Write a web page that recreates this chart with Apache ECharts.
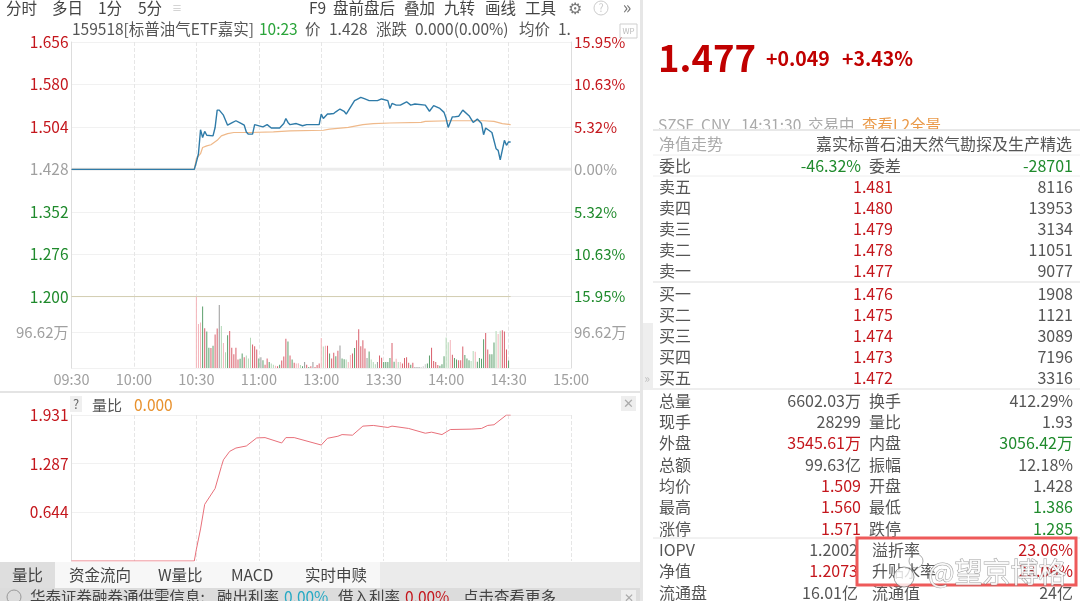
<!DOCTYPE html>
<html lang="zh">
<head>
  <meta charset="UTF-8">
  <title>159518 分时</title>
  <style>
    html, body { margin: 0; padding: 0; background: #fff; }
    #main { width: 1080px; height: 601px; }
  </style>
</head>
<body>
  <div id="main"></div>
  <script src="https://cdn.jsdelivr.net/npm/echarts@6/dist/echarts.min.js"></script>
  <script>
    const FONT = '"Noto Sans CJK SC", "Noto Sans", sans-serif';
    const RED = '#c4161c', GREEN = '#1f8a2c', GRAY = '#a0a0a0', DARK = '#555555';

    // 时间轴（从 09:30 起的分钟数）
    const timeLabels = ['09:30', '10:00', '10:30', '11:00', '13:00', '13:30', '14:00', '14:30', '15:00'];

    // 价格刻度
    const priceTicks = [1.2, 1.276, 1.352, 1.428, 1.504, 1.58, 1.656];
    const pctLabels = ['15.95%', '10.63%', '5.32%', '0.00%', '5.32%', '10.63%', '15.95%'];
    const preClose = 1.428;

    // 分时价
    const priceMinutes = [0, 59, 60, 61, 62, 63, 64, 65, 68, 69, 70, 71, 73, 75, 77, 79, 81, 83, 84, 85, 87, 88, 91, 92, 94, 96, 100, 102, 103, 104, 105, 108, 111, 113, 119, 120, 121, 123, 124, 126, 127, 129, 131, 132, 134, 136, 137, 139, 141, 143, 145, 147, 149, 152, 153, 154, 156, 158, 161, 163, 165, 170, 172, 174, 177, 179, 180, 181, 183, 184, 186, 188, 191, 193, 195, 197, 198, 199, 202, 204, 205, 206, 208, 209, 210, 211];
    const priceValues = [1.428, 1.428, 1.441, 1.456, 1.499, 1.485, 1.496, 1.489, 1.488, 1.503, 1.534, 1.534, 1.525, 1.507, 1.511, 1.515, 1.511, 1.507, 1.495, 1.491, 1.491, 1.508, 1.505, 1.504, 1.508, 1.502, 1.502, 1.510, 1.519, 1.512, 1.508, 1.510, 1.506, 1.508, 1.508, 1.527, 1.519, 1.527, 1.527, 1.528, 1.531, 1.536, 1.532, 1.527, 1.539, 1.551, 1.553, 1.557, 1.554, 1.551, 1.551, 1.551, 1.554, 1.551, 1.537, 1.546, 1.543, 1.543, 1.549, 1.543, 1.545, 1.543, 1.532, 1.542, 1.537, 1.530, 1.519, 1.503, 1.522, 1.522, 1.523, 1.534, 1.524, 1.512, 1.518, 1.510, 1.490, 1.502, 1.494, 1.465, 1.462, 1.445, 1.480, 1.471, 1.477, 1.477];

    // 均价
    const avgMinutes = [0, 59, 60, 62, 63, 65, 67, 70, 72, 75, 78, 86, 97, 105, 121, 124, 133, 140, 145, 153, 168, 170, 182, 198, 203, 207, 211];
    const avgValues = [1.428, 1.428, 1.447, 1.456, 1.467, 1.470, 1.472, 1.480, 1.488, 1.492, 1.494, 1.494, 1.495, 1.497, 1.498, 1.500, 1.503, 1.508, 1.510, 1.511, 1.512, 1.514, 1.515, 1.515, 1.514, 1.510, 1.508];

    // 成交量（万），第一根在 10:30
    const volumeStart = 60;
    const volumes = [
      193.2, 119, 123, 167, 108, 99, 55, 54, 60, 91, 107, 171, 114, 68, 43, 89, 100, 55, 37, 55,
      23, 25, 39, 29, 34, 26, 82, 64, 59, 50, 26, 29, 21, 9, 26, 16, 12, 9, 6, 5,
      9, 20, 31, 79, 72, 34, 23, 14,
      12, 13, 8, 5, 16, 9, 3, 5, 16, 3, 8, 12,
      81, 58, 60, 60, 39, 26, 41, 32, 47, 61, 26, 24, 23, 16, 35, 39, 54, 75, 105, 59,
      75, 53, 27, 45, 23, 16, 10, 16, 34, 28, 16, 16, 16, 27, 68, 17, 25, 16, 16, 12,
      27, 29, 14, 9, 14, 3, 3, 3, 3, 5, 10, 12, 34, 55, 19, 16, 8, 6, 10, 32,
      83, 70, 76, 36, 27, 23, 21, 21, 58, 35, 26, 21, 19, 46, 44, 17, 27, 25, 78, 95,
      50, 37, 37, 69, 100, 92, 101, 102, 99, 50, 20
    ];
    // 涨跌方向 1 涨 -1 跌 0 平
    const volumeDirs = [
      1, 1, 1, -1, 1, -1, -1, 1, -1, 1, 1, 0, -1, 1, -1, -1, 1, 1, 1, 1,
      1, -1, -1, 1, -1, -1, -1, 1, 1, 1, -1, 0, -1, 1, 1, -1, -1, -1, 1, 1,
      -1, 1, 1, 1, -1, 1, -1, 1,
      1, 1, -1, -1, 0, 1, -1, 1, 0, 1, 1, 1,
      1, -1, 1, 1, -1, 1, 1, -1, 1, 0, -1, -1, -1, 1, 1, 1, -1, 1, 1, 1,
      1, 1, 0, -1, -1, -1, -1, 0, 1, 1, -1, -1, -1, -1, 1, -1, 1, -1, 1, 1,
      1, 1, 1, -1, 1, 0, 0, 0, 0, 0, 0, -1, -1, 1, 1, 1, 1, -1, -1, -1,
      -1, -1, 1, 1, -1, -1, 1, 1, 1, -1, -1, -1, -1, -1, 1, -1, -1, -1, -1, 1,
      1, -1, -1, -1, -1, 1, -1, 1, 1, 1, -1
    ];
    const volumeTick = 96.62;

    // 量比
    const ratioMinutes = [0, 59, 60, 62, 64, 69, 72, 73, 76, 79, 84, 89, 93, 101, 103, 107, 120, 123, 128, 130, 135, 140, 145, 152, 154, 162, 170, 173, 178, 182, 192, 197, 200, 203, 209, 211];
    const ratioValues = [0, 0, 0.156, 0.424, 0.749, 0.959, 1.249, 1.338, 1.450, 1.494, 1.521, 1.628, 1.632, 1.561, 1.632, 1.632, 1.534, 1.623, 1.650, 1.672, 1.664, 1.784, 1.793, 1.766, 1.784, 1.753, 1.690, 1.704, 1.672, 1.739, 1.744, 1.753, 1.793, 1.802, 1.931, 1.931];
    const ratioTicks = [0.644, 1.287, 1.931];

    // 右侧盘口
    const quoteRows = [
      ['卖五', '1.481', '8116'], ['卖四', '1.480', '13953'], ['卖三', '1.479', '3134'],
      ['卖二', '1.478', '11051'], ['卖一', '1.477', '9077'], ['买一', '1.476', '1908'],
      ['买二', '1.475', '1121'], ['买三', '1.474', '3089'], ['买四', '1.473', '7196'], ['买五', '1.472', '3316']
    ];
    const quoteRowY = [187, 208, 229, 250, 271, 294, 315, 336, 357, 378];
    const statRows = [
      ['总量', '6602.03万', DARK, '换手', '412.29%', DARK],
      ['现手', '28299', DARK, '量比', '1.93', DARK],
      ['外盘', '3545.61万', RED, '内盘', '3056.42万', GREEN],
      ['总额', '99.63亿', DARK, '振幅', '12.18%', DARK],
      ['均价', '1.509', RED, '开盘', '1.428', DARK],
      ['最高', '1.560', RED, '最低', '1.386', GREEN],
      ['涨停', '1.571', RED, '跌停', '1.285', GREEN],
      ['IOPV', '1.2002', DARK, '溢折率', '23.06%', RED],
      ['净值', '1.2073', RED, '升贴水率', '23.06%', RED],
      ['流通盘', '16.01亿', DARK, '流通值', '24亿', DARK]
    ];
    const statRowY = [401, 422, 443, 465, 486, 507, 529, 550, 571, 593];
    const topTabs = [['分时', 6], ['多日', 52], ['1分', 98], ['5分', 138], ['F9', 309], ['盘前盘后', 333], ['叠加', 404], ['九转', 444], ['画线', 485], ['工具', 525]];
    const bottomTabs = [['量比', 12], ['资金流向', 69], ['W量比', 158], ['MACD', 231], ['实时申赎', 305]];
    const titleParts = [
      ['159518[标普油气ETF嘉实]', 72, DARK], ['10:23', 259, '#2aa43a'], ['价', 305, DARK], ['1.428', 329, DARK],
      ['涨跌', 376, DARK], ['0.000(0.00%)', 415, DARK], ['均价', 519, DARK], ['1.', 558, DARK]
    ];

    function txt(x, y, text, fill, size, align, weight) {
      return {
        type: 'text', z: 20,
        style: {
          x: x, y: y, text: text, fill: fill,
          font: (weight || 'normal') + ' ' + size + 'px ' + FONT,
          textAlign: align || 'left', textVerticalAlign: 'middle'
        }
      };
    }
    function box(x, y, w, h, fill, z) {
      return { type: 'rect', z: z || 1, shape: { x: x, y: y, width: w, height: h }, style: { fill: fill } };
    }
    function hline(y, color, width) {
      return { type: 'line', z: 2, shape: { x1: 653, y1: y, x2: 1080, y2: y }, style: { stroke: color, lineWidth: width || 1 } };
    }

    const g = [];
    // 面板底色
    g.push(box(640, 0, 3, 601, '#e6e6e6'));
    g.push(box(643, 323, 10, 67, '#eeeeee'));
    g.push(box(0, 391, 640, 2, '#e4e4e4'));
    g.push(box(0, 562, 640, 26, '#ebebeb'));
    g.push(box(55, 562, 325, 26, '#f7f7f7'));
    g.push(box(0, 562, 55, 26, '#dedede'));
    g.push(box(0, 588, 640, 13, '#dcdcdc'));
    // 顶部工具条
    topTabs.forEach(t => g.push(txt(t[1], 8, t[0], '#444444', 15.5)));
    g.push(txt(172, 8, '≡', '#c8c8c8', 10));
    g.push(txt(575, 8, '⚙', '#777777', 16, 'center'));
    g.push({ type: 'circle', z: 20, shape: { cx: 601, cy: 8, r: 7 }, style: { fill: 'none', stroke: '#cccccc' } });
    g.push(txt(601, 8, '?', '#cccccc', 11, 'center'));
    g.push(txt(627, 7, '»', '#777777', 18, 'center'));
    // 标题行
    titleParts.forEach(t => g.push(txt(t[1], 29, t[0], t[2], 15.5)));
    g.push({ type: 'rect', z: 20, shape: { x: 620, y: 24, width: 17, height: 14 }, style: { fill: 'none', stroke: '#cfcfcf' } });
    g.push(txt(628.5, 31, 'WP', '#bbbbbb', 8, 'center'));
    // 副图标题
    g.push(box(70, 396, 12, 16, '#efefef'));
    g.push(txt(76, 404, '?', '#666666', 13, 'center'));
    g.push(txt(92, 405, '量比', DARK, 15));
    g.push(txt(134, 405, '0.000', '#e8912d', 15.5));
    g.push(box(621, 396, 15, 15, '#eeeeee'));
    g.push(txt(628.5, 403, '✕', '#aaaaaa', 13, 'center'));
    // 底部标签
    bottomTabs.forEach(t => g.push(txt(t[1], 575, t[0], '#444444', 15.5)));
    g.push({ type: 'circle', z: 20, shape: { cx: 14, cy: 597, r: 7 }, style: { fill: 'none', stroke: '#999999' } });
    g.push(txt(30, 597, '华泰证券融券通供需信息:', '#444444', 15.5));
    g.push(txt(217, 597, '融出利率', '#444444', 15.5));
    g.push(txt(284, 597, '0.00%', '#25a9c4', 15.5));
    g.push(txt(338, 597, '借入利率', '#444444', 15.5));
    g.push(txt(405, 597, '0.00%', RED, 15.5));
    g.push(txt(463, 597, '点击查看更多', '#444444', 15.5));
    g.push(box(621, 590, 15, 11, '#eeeeee', 21));
    g.push(Object.assign(txt(628.5, 597, '✕', '#aaaaaa', 12, 'center'), { z: 22 }));

    // 右侧头部
    g.push(txt(658, 58, '1.477', '#c00000', 36.5, 'left', 'bold'));
    g.push(txt(766, 59, '+0.049', '#c00000', 19.5, 'left', 'bold'));
    g.push(txt(842, 59, '+3.43%', '#c00000', 19.5, 'left', 'bold'));
    g.push(txt(658, 125, 'SZSE', '#aaaaaa', 15.5));
    g.push(txt(701, 125, 'CNY', '#aaaaaa', 15.5));
    g.push(txt(741, 125, '14:31:30', '#aaaaaa', 15.5));
    g.push(txt(808, 125, '交易中', '#aaaaaa', 15.5));
    g.push(txt(862, 125, '查看L2全景', '#ea9a4a', 15.5));
    g.push(box(653, 130, 427, 8, '#ffffff', 21));
    g.push(Object.assign(hline(130, '#e8e8e8', 2), { z: 22 }));
    g.push(Object.assign(txt(659, 144, '净值走势', '#aaaaaa', 16), { z: 23 }));
    g.push(Object.assign(txt(1072, 144, '嘉实标普石油天然气勘探及生产精选', DARK, 16, 'right'), { z: 23 }));
    g.push(hline(155, '#eeeeee'));
    g.push(txt(659, 166, '委比', DARK, 16));
    g.push(txt(861, 166, '-46.32%', GREEN, 16, 'right'));
    g.push(txt(869, 166, '委差', DARK, 16));
    g.push(txt(1073, 166, '-28701', GREEN, 16, 'right'));
    g.push(hline(176, '#eeeeee'));
    g.push(hline(282, '#eeeeee', 2));
    g.push(hline(389, '#eeeeee', 2));
    g.push(hline(538, '#e4e4e4'));
    quoteRows.forEach((r, i) => {
      g.push(txt(659, quoteRowY[i], r[0], DARK, 16));
      g.push(txt(893, quoteRowY[i], r[1], RED, 16, 'right'));
      g.push(txt(1073, quoteRowY[i], r[2], DARK, 16, 'right'));
    });
    statRows.forEach((r, i) => {
      const lx = i >= 7 ? 872 : 869;
      g.push(txt(659, statRowY[i], r[0], DARK, 16));
      g.push(txt(i >= 7 ? 858 : 861, statRowY[i], r[1], r[2], 16, 'right'));
      g.push(txt(lx, statRowY[i], r[3], DARK, 16));
      g.push(txt(1073, statRowY[i], r[4], r[5], 16, 'right'));
    });
    g.push(txt(640 + 7, 378, '»', '#c0c0c0', 12, 'center'));
    // 红框与水印
    g.push({ type: 'rect', z: 30, shape: { x: 857, y: 538, width: 219, height: 47 }, style: { fill: 'none', stroke: '#ee5a5a', lineWidth: 3 } });
    g.push({ type: 'text', z: 31, style: { x: 928, y: 572, text: '@望京博格', fill: 'rgba(255,255,255,0.85)', stroke: 'rgba(120,120,120,0.7)', lineWidth: 1, font: '28px ' + FONT, textVerticalAlign: 'middle' } });
    g.push({ type: 'circle', z: 31, shape: { cx: 904, cy: 577, r: 10 }, style: { fill: 'rgba(255,255,255,0.8)', stroke: 'rgba(120,120,120,0.7)' } });
    g.push({ type: 'circle', z: 31, shape: { cx: 916, cy: 561, r: 7 }, style: { fill: 'none', stroke: 'rgba(120,120,120,0.6)' } });

    const splitDash = { show: true, lineStyle: { color: '#e6e6e6', type: 'dashed', width: 1 } };
    const splitDot = { show: true, lineStyle: { color: '#e2e2e2', type: 'dotted', width: 1 } };
    const edgeLine = { show: true, lineStyle: { color: '#dddddd', width: 1 } };

    function xAxisFor(gridIndex, showLabels) {
      return {
        type: 'value', gridIndex: gridIndex, min: 0, max: 240, interval: 30,
        axisLine: { show: false }, axisTick: { show: false }, splitLine: splitDash,
        axisLabel: {
          show: showLabels, color: GRAY, fontSize: 14.5, fontFamily: FONT, margin: 4, showMinLabel: true, showMaxLabel: true,
          formatter: v => timeLabels[v / 30]
        }
      };
    }
    function priceColor(v) {
      return v > preClose + 1e-6 ? RED : (v < preClose - 1e-6 ? GREEN : GRAY);
    }
    // 参考图里细柱被缩放后深浅交替，每 12 根一轮
    function barColor(i) {
      const pale = i % 12 < 3;
      if (volumeDirs[i] > 0) return pale ? '#f4b4ba' : '#d9606c';
      if (volumeDirs[i] < 0) return pale ? '#b2d8b6' : '#5c9f6c';
      return pale ? '#c8c8c8' : '#9a9a9a';
    }

    const option = {
      animation: false,
      backgroundColor: '#ffffff',
      textStyle: { fontFamily: FONT },
      graphic: { elements: g },
      grid: [
        { left: 71.5, right: 509, top: 42, height: 254.7 },
        { left: 71.5, right: 509, top: 296.7, height: 71.3 },
        { left: 71.5, right: 509, top: 415, height: 146 }
      ],
      xAxis: [xAxisFor(0, false), xAxisFor(1, true), xAxisFor(2, false)],
      yAxis: [
        {
          type: 'value', gridIndex: 0, min: 1.2, max: 1.656, splitLine: splitDot, axisLine: edgeLine, axisTick: { show: false, customValues: priceTicks },
          axisLabel: { customValues: priceTicks, margin: 3, fontSize: 15.5, fontFamily: FONT, color: v => priceColor(v), formatter: v => v.toFixed(3) }
        },
        {
          type: 'value', gridIndex: 0, position: 'right', min: 1.2, max: 1.656, splitLine: { show: false }, axisLine: edgeLine, axisTick: { show: false, customValues: priceTicks },
          axisLabel: { customValues: priceTicks, margin: 3, fontSize: 15, fontFamily: FONT, color: v => priceColor(v), formatter: v => pctLabels[priceTicks.findIndex(t => Math.abs(t - v) < 1e-6)] }
        },
        {
          type: 'value', gridIndex: 1, min: 0, max: volumeTick * 2, interval: volumeTick, splitLine: splitDot, axisLine: edgeLine, axisTick: { show: false },
          axisLabel: { margin: 3, fontSize: 15, fontFamily: FONT, color: GRAY, formatter: v => Math.abs(v - volumeTick) < 1e-6 ? volumeTick + '万' : '' }
        },
        {
          type: 'value', gridIndex: 1, position: 'right', min: 0, max: volumeTick * 2, interval: volumeTick, splitLine: { show: false }, axisLine: edgeLine, axisTick: { show: false },
          axisLabel: { margin: 3, fontSize: 15, fontFamily: FONT, color: GRAY, formatter: v => Math.abs(v - volumeTick) < 1e-6 ? volumeTick + '万' : '' }
        },
        {
          type: 'value', gridIndex: 2, min: 0, max: 1.931, splitLine: splitDot, axisLine: edgeLine, axisTick: { show: false, customValues: ratioTicks },
          axisLabel: { customValues: ratioTicks, margin: 3, fontSize: 15.5, fontFamily: FONT, color: RED, formatter: v => v.toFixed(3) }
        }
      ],
      series: [
        {
          name: '昨收', type: 'line', xAxisIndex: 0, yAxisIndex: 0, symbol: 'none', silent: true, z: 1,
          data: [[0, preClose], [240, preClose]], lineStyle: { color: '#ececec', width: 3 }
        },
        {
          name: '跌停线', type: 'line', xAxisIndex: 0, yAxisIndex: 0, symbol: 'none', silent: true, z: 1,
          data: [[0, 1.2], [211, 1.2]], lineStyle: { color: '#cfc9a8', width: 1 }
        },
        {
          name: '均价', type: 'line', xAxisIndex: 0, yAxisIndex: 0, symbol: 'none', z: 3,
          data: avgMinutes.map((m, i) => [m, avgValues[i]]), lineStyle: { color: '#efb98a', width: 1.2 }
        },
        {
          name: '价格', type: 'line', xAxisIndex: 0, yAxisIndex: 0, symbol: 'none', z: 4,
          data: priceMinutes.map((m, i) => [m, priceValues[i]]), lineStyle: { color: '#2f7ba8', width: 1.4 }
        },
        {
          name: '成交量', type: 'bar', xAxisIndex: 1, yAxisIndex: 2, barWidth: 1, z: 3,
          data: volumes.map((v, i) => [volumeStart + i, v]),
          itemStyle: { color: p => barColor(p.dataIndex) }
        },
        {
          name: '量比', type: 'line', xAxisIndex: 2, yAxisIndex: 4, symbol: 'none', z: 3,
          data: ratioMinutes.map((m, i) => [m, ratioValues[i]]), lineStyle: { color: '#e8707a', width: 1 }
        }
      ]
    };

    var myChart = echarts.init(document.getElementById('main'), null, { renderer: 'canvas' });
    myChart.setOption(option);
  </script>
</body>
</html>
